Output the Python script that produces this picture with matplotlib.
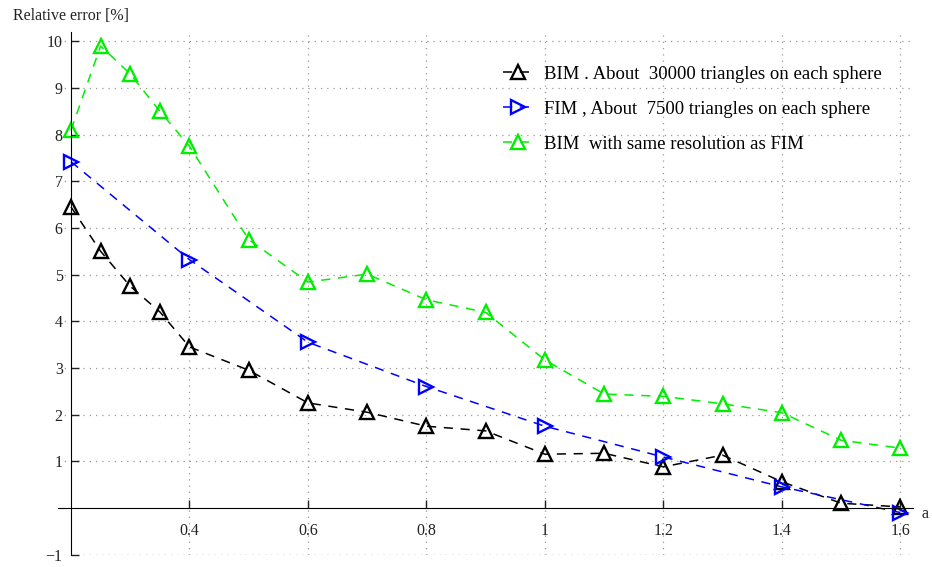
import matplotlib
matplotlib.use("Agg")
import matplotlib.pyplot as plt

plt.rcParams['font.family'] = ['Liberation Serif', 'DejaVu Serif']

# values
x_fine = [0.2, 0.25, 0.3, 0.35, 0.4, 0.5, 0.6, 0.7, 0.8, 0.9, 1.0, 1.1, 1.2, 1.3, 1.4, 1.5, 1.6]
bim_fine = [6.45, 5.5, 4.75, 4.2, 3.45, 2.95, 2.25, 2.05, 1.75, 1.65, 1.15, 1.17, 0.88, 1.13, 0.56, 0.1, 0.02]
bim_coarse = [8.1, 9.9, 9.3, 8.5, 7.75, 5.75, 4.84, 5.01, 4.46, 4.19, 3.17, 2.44, 2.39, 2.23, 2.04, 1.45, 1.28]

x_fim = [0.2, 0.4, 0.6, 0.8, 1.0, 1.2, 1.4, 1.6]
fim = [7.42, 5.32, 3.55, 2.6, 1.75, 1.09, 0.45, -0.1]

labels = ['BIM . About  30000 triangles on each sphere',
          'FIM , About  7500 triangles on each sphere',
          'BIM  with same resolution as FIM']
xticks = [0.4, 0.6, 0.8, 1.0, 1.2, 1.4, 1.6]
xticklabels = ['0.4', '0.6', '0.8', '1', '1.2', '1.4', '1.6']
yticks = [-1, 1, 2, 3, 4, 5, 6, 7, 8, 9, 10]
yticklabels = ['\u22121', '1', '2', '3', '4', '5', '6', '7', '8', '9', '10']

fig = plt.figure(figsize=(9.32, 5.67), dpi=100)
ax = fig.add_axes([0.0622, 0.022, 0.9178, 0.9216])

common = dict(linewidth=1.1, dashes=(6, 5), markersize=10, markeredgewidth=1.7,
              markerfacecolor='none')
ax.plot(x_fine, bim_fine, color='black', marker='^', label=labels[0], **common)
ax.plot(x_fim, fim, color='blue', marker='>', label=labels[1], **common)
ax.plot(x_fine, bim_coarse, color='#00ee00', marker='^', label=labels[2], **common)

ax.set_xlim(0.178, 1.622)
ax.set_ylim(-1, 10.2)

ax.spines['left'].set_position(('data', 0.2))
ax.spines['bottom'].set_position(('data', 0))
ax.spines['top'].set_visible(False)
ax.spines['right'].set_visible(False)

ax.set_xticks(xticks)
ax.set_xticklabels(xticklabels)
ax.set_yticks(yticks)
ax.set_yticklabels(yticklabels)
ax.tick_params(axis='both', direction='in', length=6, width=1, labelsize=11.5,
               colors='#222222')
ax.tick_params(axis='x', pad=11)
ax.tick_params(axis='y', pad=6)

ax.grid(True, color='#999999', linestyle=(0, (1, 4)), linewidth=0.9)
ax.axhline(-1, color='#999999', linestyle=(0, (1, 4)), linewidth=0.9)

leg = ax.legend(loc='upper left', bbox_to_anchor=(0.5006, 0.968), frameon=False,
                fontsize=13.5, handlelength=1.6, handletextpad=0.59, labelspacing=0.95)

fig.text(0.014, 0.972, 'Relative error [%]', fontsize=11.5, color='#222222', va='center')
fig.text(0.992, 0.094, 'a', fontsize=11.5, color='#222222', ha='center', va='center')

fig.savefig('out.png', dpi=100)
